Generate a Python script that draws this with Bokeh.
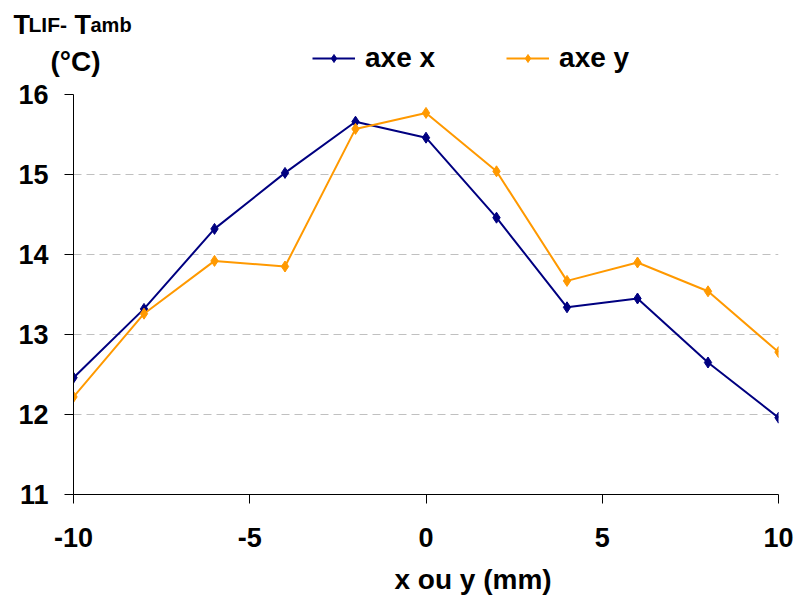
from bokeh.plotting import figure
from bokeh.layouts import column
from bokeh.models import Label, Legend, LegendItem, FixedTicker, Range1d
from bokeh.embed import file_html
from bokeh.resources import INLINE

# data
positions = [-10, -8, -6, -4, -2, 0, 2, 4, 6, 8, 10]
axe_x = [12.46, 13.32, 14.32, 15.02, 15.66, 15.46, 14.46, 13.34, 13.45, 12.65, 11.96]
axe_y = [12.22, 13.26, 13.92, 13.85, 15.57, 15.77, 15.04, 13.67, 13.90, 13.54, 12.78]
x_ticks = [-10, -5, 0, 5, 10]
x_tick_labels = {-10: "-10", -5: "-5", 0: "0", 5: "5", 10: "10"}
y_ticks = [11, 12, 13, 14, 15, 16]
series_names = ["axe x", "axe y"]
x_title = "x ou y (mm)"

FONT = "Liberation Sans"
NAVY = "#000080"
ORANGE = "#FF9900"
W = 797
HEAD_H = 80
FOOT_H = 37
MAIN_H = 597 - HEAD_H - FOOT_H


def strip(height):
    f = figure(width=W, height=height, output_backend="svg", toolbar_location=None,
               x_range=Range1d(0, 1), y_range=Range1d(0, 1), min_border=0,
               x_axis_type=None, y_axis_type=None)
    f.outline_line_color = None
    f.grid.visible = False
    if "frame_align" in f.properties():
        f.frame_align = False
    return f


def lab(fig, text, px, py, top, height, size):
    # px: left edge, py: baseline (page pixels); top: strip's top on the page
    fig.add_layout(Label(x=px, y=height - (py - top) + 8, x_units="screen", y_units="screen",
                         text=text, text_font=FONT, text_font_style="bold",
                         text_font_size=size, text_color="black",
                         text_baseline="alphabetic", text_align="left"))


# ---------- header strip: y-axis title and legend ----------
hf = strip(HEAD_H)
# legend sample renderers (their data lie outside this strip's ranges)
h1 = hf.line(positions, axe_x, line_color=NAVY, line_width=2)
hm1 = hf.scatter(positions, axe_x, marker="diamond", size=11, color=NAVY)
h2 = hf.line(positions, axe_y, line_color=ORANGE, line_width=2)
hm2 = hf.scatter(positions, axe_y, marker="diamond", size=11, color=ORANGE)

legend = Legend(items=[LegendItem(label=series_names[0], renderers=[h1, hm1]),
                       LegendItem(label=series_names[1], renderers=[h2, hm2])],
                location=(312, 6), orientation="horizontal")
legend.border_line_color = None
legend.background_fill_alpha = 0
legend.label_text_font = FONT
legend.label_text_font_style = "bold"
legend.label_text_font_size = "28px"
legend.label_text_color = "black"
legend.glyph_width = 43
legend.glyph_height = 20
legend.spacing = 71
legend.label_standoff = 10
legend.padding = 4
legend.margin = 0
hf.add_layout(legend)

lab(hf, "T", 13, 32, 0, HEAD_H, "27px")
lab(hf, "LIF-", 28, 32, 0, HEAD_H, "21px")
lab(hf, "T", 74, 32, 0, HEAD_H, "27px")
lab(hf, "amb", 90, 32, 0, HEAD_H, "20px")
lab(hf, "(°C)", 50, 69, 0, HEAD_H, "28px")

# ---------- main chart ----------
p = figure(width=W, height=MAIN_H, output_backend="svg", toolbar_location=None,
           x_range=Range1d(-10, 10), y_range=Range1d(11, 16),
           min_border_left=73, min_border_right=19, min_border_top=94 - HEAD_H,
           min_border_bottom=MAIN_H - (494 - HEAD_H))
p.outline_line_color = None
p.background_fill_color = "white"
if "frame_align" in p.properties():
    p.frame_align = False

p.line(positions, axe_x, line_color=NAVY, line_width=2)
p.scatter(positions, axe_x, marker="diamond", size=11, color=NAVY)
p.line(positions, axe_y, line_color=ORANGE, line_width=2)
p.scatter(positions, axe_y, marker="diamond", size=11, color=ORANGE)

for ax in (p.xaxis[0], p.yaxis[0]):
    ax.axis_line_color = "black"
    ax.axis_line_width = 1
    ax.major_tick_line_color = "black"
    ax.minor_tick_line_color = None
    ax.major_tick_in = 0
    ax.major_tick_out = 9
    ax.major_label_text_font = FONT
    ax.major_label_text_font_style = "bold"
    ax.major_label_text_font_size = "27px"
    ax.major_label_text_color = "black"

p.xaxis.ticker = FixedTicker(ticks=x_ticks)
p.xaxis.major_label_overrides = x_tick_labels
p.yaxis.ticker = FixedTicker(ticks=y_ticks)
p.xaxis.major_label_standoff = 24
p.yaxis.major_label_standoff = 16

p.xgrid.grid_line_color = None
p.ygrid.grid_line_color = "#C0C0C0"
p.ygrid.grid_line_dash = "8 5"
p.ygrid.grid_line_width = 1

# ---------- footer strip: x-axis title ----------
ff = strip(FOOT_H)
lab(ff, x_title, 394, 587, 597 - FOOT_H, FOOT_H, "28px")

layout = column(hf, p, ff, spacing=0)
open("out.html", "w").write(file_html(layout, INLINE))
